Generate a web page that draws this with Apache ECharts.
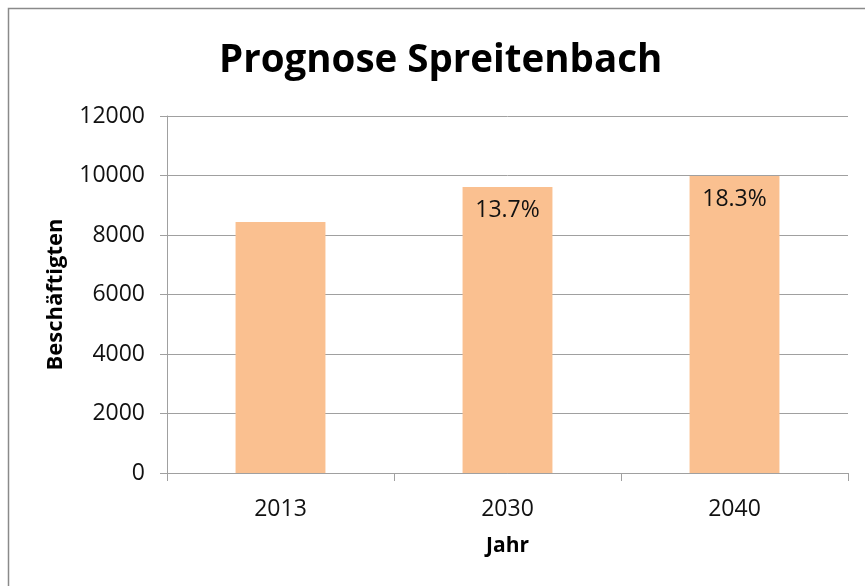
<!DOCTYPE html>
<html>
<head>
<meta charset="utf-8">
<script src="https://cdn.jsdelivr.net/npm/echarts@6/dist/echarts.min.js"></script>
<style>
  html, body { margin: 0; padding: 0; background: #fff; }
  #chart { width: 865px; height: 586px; }
</style>
</head>
<body>
<div id="chart"></div>
<script>
// Jahre und Beschaeftigte
var jahre = ['2013', '2030', '2040'];
var beschaeftigte = [8440, 9610, 9985];
var wachstum = ['', '13.7%', '18.3%'];   // Zuwachs gegenueber 2013
var yTicks = [0, 2000, 4000, 6000, 8000, 10000, 12000];

var FONT = '"Open Sans", sans-serif';
var myChart = echarts.init(document.getElementById('chart'));

var option = {
  animation: false,
  title: {
    text: 'Prognose Spreitenbach',
    left: 214,
    top: 37,
    textStyle: { fontFamily: FONT, fontSize: 38.5, fontWeight: 'bold', color: '#000' }
  },
  graphic: [{
    type: 'rect',
    shape: { x: 8.5, y: 8.5, width: 900, height: 700 },
    style: { fill: 'none', stroke: '#8a8a8a', lineWidth: 1.5 }
  }],
  grid: { left: 167, right: 17, top: 116, bottom: 113 },
  xAxis: {
    type: 'category',
    data: jahre,
    name: 'Jahr',
    nameLocation: 'middle',
    nameGap: 63,
    nameTextStyle: { fontFamily: FONT, fontSize: 21, fontWeight: 'bold', color: '#000' },
    axisLine: { lineStyle: { color: '#a0a0a0', width: 1 } },
    axisTick: { show: true, length: 8, alignWithLabel: false, lineStyle: { color: '#a0a0a0' } },
    axisLabel: { fontFamily: FONT, fontSize: 23, color: '#111', margin: 25 }
  },
  yAxis: {
    type: 'value',
    min: yTicks[0],
    max: yTicks[yTicks.length - 1],
    interval: 2000,
    name: 'Beschäftigten',
    nameLocation: 'middle',
    nameGap: 100,
    nameTextStyle: { fontFamily: FONT, fontSize: 22, fontWeight: 'bold', color: '#000' },
    axisLine: { show: true, lineStyle: { color: '#a0a0a0', width: 1 } },
    axisTick: { show: true, length: 7, lineStyle: { color: '#a0a0a0' } },
    splitLine: { lineStyle: { color: '#a0a0a0', width: 1 } },
    axisLabel: {
      fontFamily: FONT, fontSize: 23, color: '#111', margin: 22,
      formatter: function (v) { return String(v); }
    }
  },
  series: [{
    type: 'bar',
    data: beschaeftigte,
    barWidth: '39.6%',
    itemStyle: { color: '#fac090' },
    label: {
      show: true,
      position: 'insideTop',
      distance: 12,
      fontFamily: FONT,
      fontSize: 23,
      color: '#111',
      formatter: function (p) { return wachstum[p.dataIndex]; }
    }
  }]
};
myChart.setOption(option, true);
</script>
</body>
</html>
